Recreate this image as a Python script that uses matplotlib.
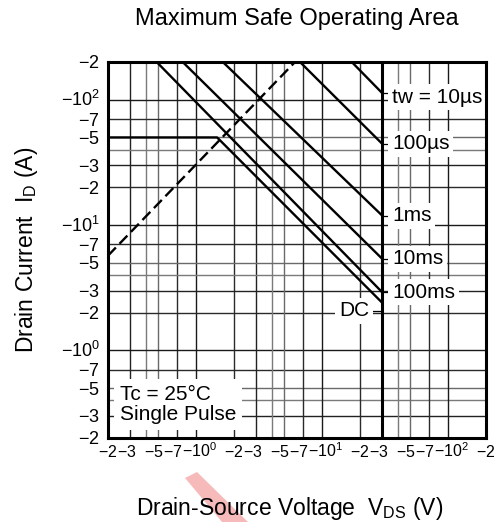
import matplotlib.pyplot as plt
import matplotlib.transforms as mtransforms
from matplotlib.patches import Polygon
from matplotlib.ticker import NullLocator

plt.rcParams['font.family'] = ['Liberation Sans', 'DejaVu Sans']
plt.rcParams['mathtext.fontset'] = 'custom'
plt.rcParams['mathtext.rm'] = 'Liberation Sans'
plt.rcParams['mathtext.it'] = 'Liberation Sans:italic'

# SOA data (magnitudes, V and A)
v_dss = 30
dc_v = [0.2, 1.47, 30]
dc_i = [50, 50, 2.4]
pulse_names = ['tw = 10\u00b5s', '100\u00b5s', '1ms', '10ms', '100ms']
pulse_v_top = [17.2, 6.68, 1.63, 0.783, 0.487]   # voltage where line leaves 200 A
pulse_i_end = [113, 44.5, 11.9, 5.38, 2.91]      # current at V_DSS
pulse_label_i = [105, 44.5, 11.9, 5.38, 2.91]
dc_label_i = 2.07
rds_v = [0.2, 6.1]
rds_i = [5.7, 200]
i_max = 200

tick_vals = [0.2, 0.3, 0.5, 0.7, 1, 2, 3, 5, 7, 10, 20, 30, 50, 70, 100, 200]
tick_text = ['-2', '-3', '-5', '-7', '-10^{0}', '-2', '-3', '-5', '-7', '-10^{1}',
             '-2', '-3', '-5', '-7', '-10^{2}', '-2']

W, H = 501, 522
fig = plt.figure(figsize=(W / 100, H / 100), dpi=100)
ax = fig.add_axes([108 / W, 1 - 438 / H, 378 / W, 376 / H])
ax.set_xscale('log')
ax.set_yscale('log')
ax.set_xlim(0.2, 200)
ax.set_ylim(0.2, 200)
for axis in (ax.xaxis, ax.yaxis):
    axis.set_major_locator(NullLocator())
    axis.set_minor_locator(NullLocator())
for s in ax.spines.values():
    s.set_linewidth(2.2)
    s.set_zorder(6)

# grid: most lines dark, 4 and 5 lighter
grid_style = {1: '#1a1a1a', 2: '#2a2a2a', 3: '#222222', 4: '#7a7a7a', 5: '#6a6a6a', 7: '#2a2a2a'}
for dec in [0.1, 1, 10, 100]:
    for m, c in grid_style.items():
        v = m * dec
        if 0.2 < v < 200:
            ax.axvline(v, color=c, lw=1.0, zorder=1)
            ax.axhline(v, color=c, lw=1.0, zorder=1)

# limit lines
ax.plot(dc_v, dc_i, color='black', lw=1.7, zorder=3)
for v0, i1 in zip(pulse_v_top, pulse_i_end):
    ax.plot([v0, v_dss], [i_max, i1], color='black', lw=1.7, zorder=3)
ax.plot(rds_v, rds_i, color='black', lw=1.7, dashes=(4.8, 2.2), zorder=3)
ax.plot([v_dss, v_dss], [0.2, i_max], color='black', lw=2.2, zorder=4)

# curve labels
for name, i1, iy in zip(pulse_names, pulse_i_end, pulse_label_i):
    ax.plot([v_dss, 34], [i1, i1], color='black', lw=0.9, zorder=4)
    ax.text(35.9, iy, name, fontsize=15, ha='left', va='center', zorder=5,
            bbox=dict(facecolor='white', edgecolor='none', pad=2.5))
ax.plot([25, v_dss], [dc_label_i, dc_label_i], color='black', lw=0.9, zorder=4)
ax.text(23.6, dc_label_i, 'DC', fontsize=15, ha='right', va='center', zorder=5,
        bbox=dict(facecolor='white', edgecolor='none', pad=2.5))

ax.text(0.249, 0.371, 'Tc = 25\u00b0C\nSingle Pulse', fontsize=15, ha='left', va='center',
        linespacing=1.1, zorder=5,
        bbox=dict(facecolor='white', edgecolor='none', pad=4))

# tick labels; x labels are narrow and nudged so the crowded ones abut
shift = {'-2': 0, '-3': -3, '-5': -4, '-7': -4}
yt = mtransforms.blended_transform_factory(ax.transAxes, ax.transData) + \
    mtransforms.ScaledTranslation(-0.08, -0.065, fig.dpi_scale_trans)
for v, t in zip(tick_vals, tick_text):
    lab = r'$\mathregular{' + t + '}$'
    dx = shift.get(t, 3) / 100
    xt = mtransforms.blended_transform_factory(ax.transData, ax.transAxes) + \
        mtransforms.ScaledTranslation(dx, -0.19, fig.dpi_scale_trans)
    ax.text(v, 0, lab, transform=xt, ha='center', va='baseline', fontsize=11.5,
            family=['Liberation Sans Narrow', 'Liberation Sans'], clip_on=False)
    ax.text(0, v, lab, transform=yt, ha='right', va='baseline', fontsize=13, clip_on=False)

# faint mark behind the axis title
fig.patches.append(Polygon([(185 / W, 1 - 478 / H), (197 / W, 1 - 472 / H),
                            (248 / W, 0), (222 / W, 0)], closed=True,
                           transform=fig.transFigure, facecolor='#f7baba',
                           edgecolor='none', zorder=0))

fig.text(297 / W, 1 - 25 / H, 'Maximum Safe Operating Area', ha='center', va='baseline', fontsize=17)
fig.text(290 / W, 1 - 515 / H, r'Drain-Source Voltage  $\mathregular{V_{DS}}$ (V)',
         ha='center', va='baseline', fontsize=16.5)
fig.text(27 / W, 1 - 250 / H, r'Drain Current  $\mathregular{I_{D}}$ (A)',
         ha='center', va='center', rotation=90, fontsize=16.5)

fig.savefig('out.png', dpi=100)
